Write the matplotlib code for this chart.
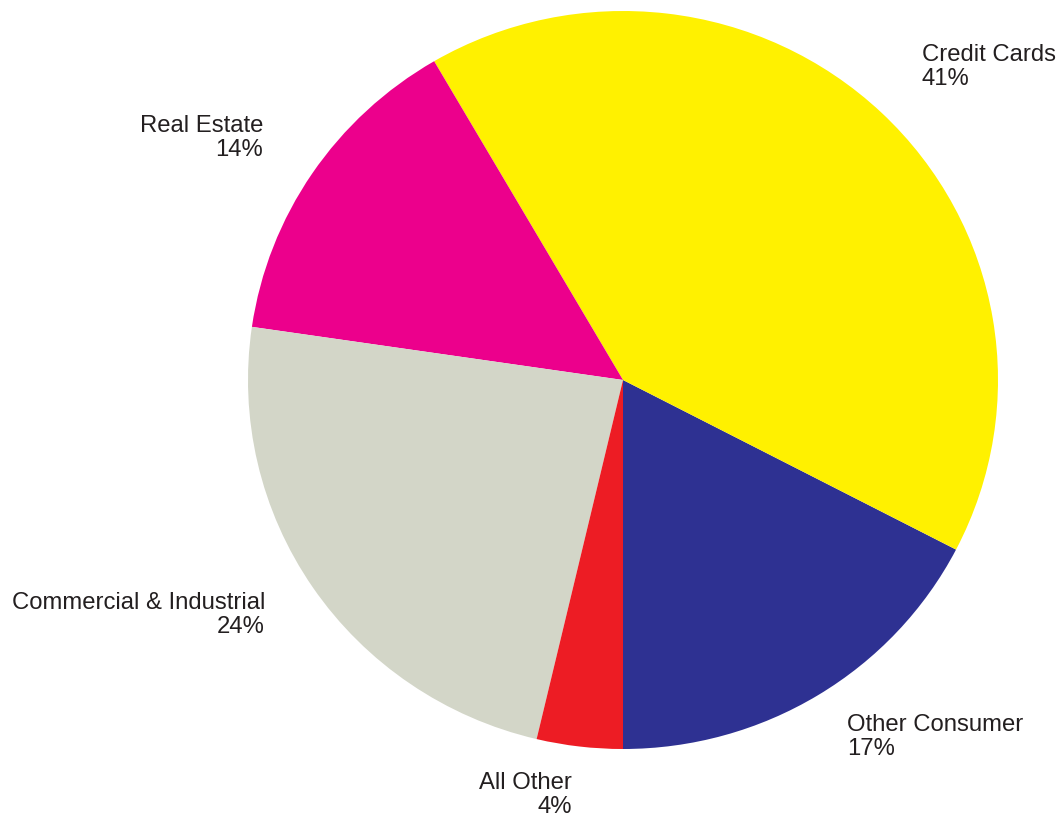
import matplotlib
matplotlib.use("Agg")
import matplotlib.pyplot as plt

# slices counter-clockwise starting at 6 o'clock
categories = ["Other Consumer", "Credit Cards", "Real Estate", "Commercial & Industrial", "All Other"]
shares = [17.4, 41.0, 14.3, 23.6, 3.7]
pct_labels = ["17%", "41%", "14%", "24%", "4%"]
colors = ["#2E3192", "#FFF100", "#EC008C", "#D3D6C8", "#ED1C24"]

# label anchor (pixel x, baseline y of last line in pixels, alignment)
label_pos = [(847, 755, "left"), (922, 85, "left"), (263, 156, "right"),
             (265, 633, "right"), (572, 813, "right")]

W, H = 1060, 819
cx, cy, rx, ry = 623, 380, 375, 369

fig = plt.figure(figsize=(W / 100, H / 100), dpi=100)
ax = fig.add_axes([0, 0, 1, 1])
ax.pie(shares, colors=colors, startangle=-90, counterclock=True,
       wedgeprops=dict(linewidth=0))
ax.set_aspect("auto")
ax.set_xlim(-cx / rx, (W - cx) / rx)
ax.set_ylim((cy - H) / ry, cy / ry)
ax.axis("off")

for name, pct, (px, py, ha) in zip(categories, pct_labels, label_pos):
    fig.text(px / W, 1 - py / H, f"{name}\n{pct}", ha=ha, va="baseline",
             fontsize=17.2, family="Liberation Sans", color="#231F20",
             linespacing=1.1, multialignment=ha)

fig.savefig("out.png", dpi=100)
